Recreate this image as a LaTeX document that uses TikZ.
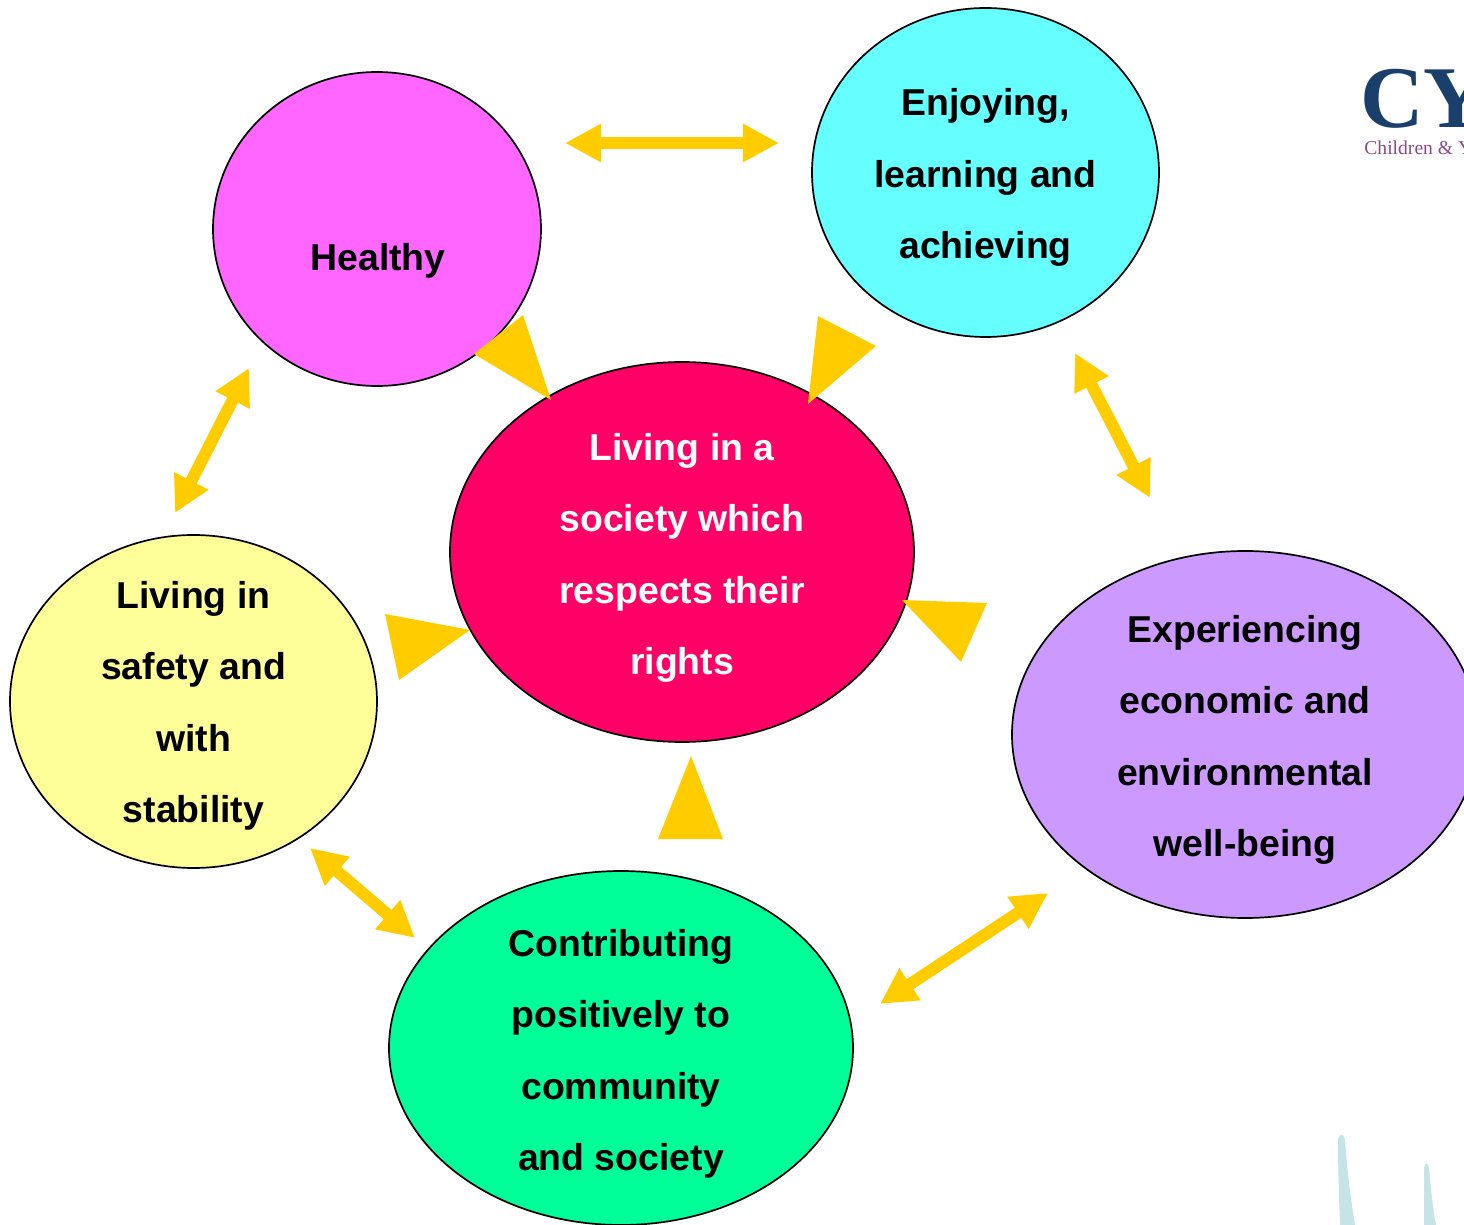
\documentclass[tikz,border=0pt]{standalone}
\usepackage{fontspec}
\setmainfont{Liberation Sans}
\newfontfamily\logofont{Liberation Serif}
\usetikzlibrary{arrows.meta,shapes.geometric}
\definecolor{wedge}{HTML}{FFCC00}
\definecolor{logoblue}{HTML}{1B3F6B}
\definecolor{logopurple}{HTML}{8A4A85}
\definecolor{sliver}{HTML}{C6E4E6}
\tikzset{
  bubble/.style={ellipse,draw=black,line width=0.85pt,inner sep=0pt},
  caption/.style={inner sep=0pt,align=center,font=\fontsize{18.7}{35.75}\selectfont\bfseries},
  linkarrow/.style={draw=wedge,line width=6pt,{Triangle[length=18pt,width=18pt]}-{Triangle[length=18pt,width=18pt]}},
  wedgeshape/.style={fill=wedge,draw=none}
}
\begin{document}
\begin{tikzpicture}[x=0.5pt,y=-0.5pt]
\clip (0,0) rectangle (1464,1225);
% bubbles
\node[bubble,fill={rgb,255:red,255;green,102;blue,255},minimum width=164pt,minimum height=157pt] (healthy) at (377,229) {};
\node[bubble,fill={rgb,255:red,102;green,255;blue,255},minimum width=173.5pt,minimum height=164.5pt] (enjoy) at (985.5,172.5) {};
\node[bubble,fill={rgb,255:red,204;green,153;blue,255},minimum width=233pt,minimum height=183.5pt] (econ) at (1245,734.5) {};
\node[bubble,fill={rgb,255:red,0;green,255;blue,153},minimum width=232pt,minimum height=177pt] (contrib) at (621,1048) {};
\node[bubble,fill={rgb,255:red,255;green,255;blue,153},minimum width=183.5pt,minimum height=166.5pt] (safety) at (193.5,701.5) {};
\node[bubble,fill={rgb,255:red,255;green,0;blue,102},minimum width=232pt,minimum height=190pt] (rights) at (682,552) {};
% captions
\node[caption] (healthytext) at (378,261) {Healthy};
\node[caption] (enjoytext) at (985.5,177.5) {Enjoying,\\learning and\\achieving};
\node[caption] (econtext) at (1245,740) {Experiencing\\economic and\\environmental\\well-being};
\node[caption] (contribtext) at (621,1054) {Contributing\\positively to\\community\\and society};
\node[caption] (safetytext) at (193.5,706) {Living in\\safety and\\with\\stability};
\node[caption,text=white] (rightstext) at (682,558) {Living in a\\society which\\respects their\\rights};
% connector ends
\coordinate (h1) at (565,143); \coordinate (e1) at (779,143);
\coordinate (e2) at (1075,353); \coordinate (c2) at (1150,498);
\coordinate (c3) at (1048,893); \coordinate (g3) at (880,1004);
\coordinate (g4) at (415,938); \coordinate (s4) at (310,848);
\coordinate (s5) at (175,513); \coordinate (h5) at (249,368);
\draw[linkarrow] (h1) -- (e1);
\draw[linkarrow] (e2) -- (c2);
\draw[linkarrow] (c3) -- (g3);
\draw[linkarrow] (g4) -- (s4);
\draw[linkarrow] (s5) -- (h5);
% wedges pointing at the centre
\fill[wedgeshape] (523,315) -- (474,354) -- (551,400) -- cycle;
\fill[wedgeshape] (818,316) -- (876,346) -- (808,404) -- cycle;
\fill[wedgeshape] (902,600) -- (987,603) -- (961,662) -- cycle;
\fill[wedgeshape] (385,614) -- (470,630) -- (399,680) -- cycle;
\fill[wedgeshape] (691,756) -- (723,839) -- (658,839) -- cycle;
% logo
\node[anchor=base west,inner sep=0pt,text=logoblue,font=\logofont\bfseries\fontsize{44}{44}\selectfont] (logo) at (1360,127.5) {CY};
\node[anchor=base west,inner sep=0pt,text=logopurple,font=\logofont\fontsize{9.8}{10}\selectfont] (logotext) at (1364,154.5) {Children \& Y};
% slivers
\fill[sliver] (1338,1140) .. controls (1339,1133) and (1344,1133) .. (1345,1140) .. controls (1347,1170) and (1351,1200) .. (1355,1225) -- (1340,1225) .. controls (1339,1195) and (1338,1165) .. (1338,1140) -- cycle;
\fill[sliver] (1424,1168) .. controls (1425,1162) and (1428,1162) .. (1429,1168) .. controls (1431,1190) and (1433,1210) .. (1436,1225) -- (1424,1225) -- cycle;
\end{tikzpicture}
\end{document}
